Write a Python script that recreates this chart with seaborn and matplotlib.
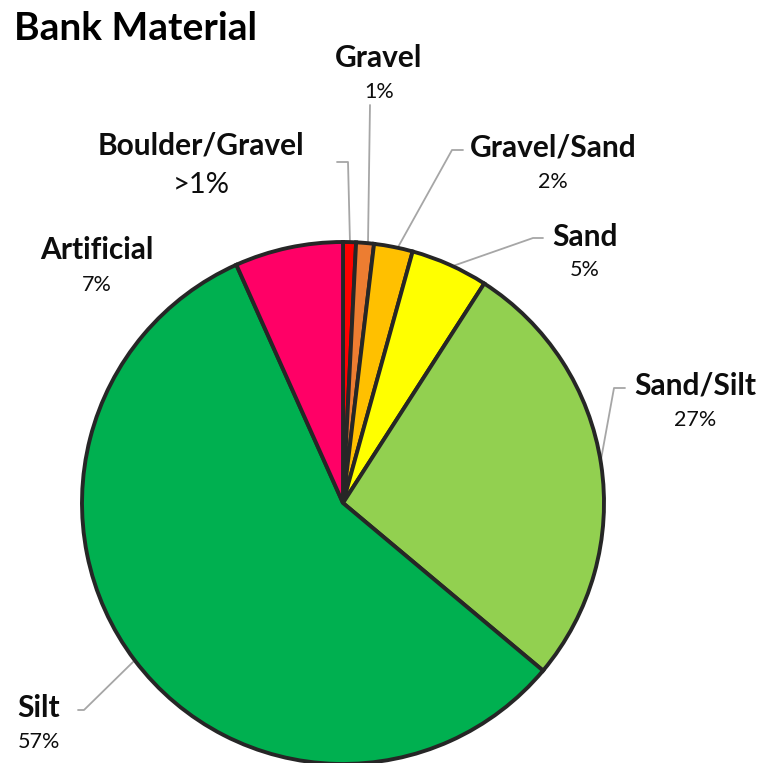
import matplotlib
matplotlib.use("Agg")
import matplotlib.pyplot as plt
import seaborn as sns

categories = ["Boulder/Gravel", "Gravel", "Gravel/Sand", "Sand", "Sand/Silt", "Silt", "Artificial"]
values = [0.8, 1.1, 2.4, 4.8, 27.0, 57.2, 6.7]
pct_labels = [">1%", "1%", "2%", "5%", "27%", "57%", "7%"]
colors = ["#FF0000", "#ED7D31", "#FFC000", "#FFFF00", "#92D050", "#00B050", "#FF0066"]

sns.set_theme(style="white")
plt.rcParams["font.family"] = ["Lato", "DejaVu Sans"]

W, H = 759, 763
fig = plt.figure(figsize=(W / 100, H / 100), dpi=100)
ax = fig.add_axes([0, 0, 1, 1])

cx, cy, r = 343, 503, 261
# pie drawn in a flipped-y axis: counterclock=True with start at top -> appears clockwise
wedges, _ = ax.pie(values, colors=colors, startangle=-90, counterclock=True,
                   center=(cx, cy), radius=r, frame=True,
                   wedgeprops=dict(edgecolor="#262626", linewidth=2.8))
ax.set_xlim(0, W)
ax.set_ylim(H, 0)
ax.set_aspect("equal")
ax.axis("off")

pos = {
    "Boulder/Gravel": ((201, 145), (201, 185)),
    "Gravel": ((379, 58), (379, 92)),
    "Gravel/Sand": ((553, 148), (553, 182)),
    "Sand": ((585, 237), (585, 270)),
    "Sand/Silt": ((695, 386), (695, 420)),
    "Silt": ((39, 708), (39, 742)),
    "Artificial": ((97, 250), (97, 285)),
}
for cat, pl in zip(categories, pct_labels):
    (nx, ny), (px, py) = pos[cat]
    ax.text(nx, ny, cat, ha="center", va="center", fontsize=21.5, fontweight="bold", color="#0d0d0d")
    fs = 21 if cat == "Boulder/Gravel" else 15.5
    ax.text(px, py, pl, ha="center", va="center", fontsize=fs, color="#0d0d0d")

lc = "#a6a6a6"
leaders = [
    [(337, 162), (348, 162), (350, 243)],
    [(370, 105), (368, 243)],
    [(463, 150), (452, 150), (397, 249)],
    [(543, 238), (533, 238), (450, 267)],
    [(625, 388), (614, 388), (600, 465)],
    [(78, 710), (84, 710), (133, 662)],
]
for pts in leaders:
    xs, ys = zip(*pts)
    ax.plot(xs, ys, color=lc, lw=1.3, zorder=0.5)

ax.text(14, 28, "Bank Material", ha="left", va="center", fontsize=28, fontweight="bold", color="#000000")

fig.savefig("out.png", dpi=100)
